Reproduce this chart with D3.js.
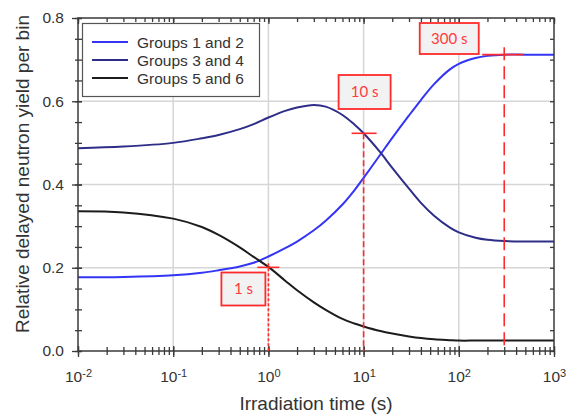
<!DOCTYPE html>
<html>
<head>
<meta charset="utf-8">
<script src="https://cdn.jsdelivr.net/npm/d3@7"></script>
<style>
  html, body { margin: 0; padding: 0; background: #fff; }
  svg { display: block; }
</style>
</head>
<body>
<svg id="chart" width="566" height="414"></svg>
<script>
// ---------------- data ----------------
const times = [0.01, 0.03, 0.1, 0.2, 0.3, 0.5, 0.7, 1, 1.5, 2, 3, 4, 6, 8, 10, 15, 20, 30, 40, 55, 80, 100, 150, 200, 300, 500, 1000];
const groups12 = [0.177, 0.178, 0.182, 0.188, 0.194, 0.203, 0.212, 0.227, 0.247, 0.263, 0.290, 0.313, 0.352, 0.386, 0.416, 0.472, 0.512, 0.566, 0.603, 0.641, 0.676, 0.690, 0.704, 0.709, 0.712, 0.712, 0.712];
const groups34 = [0.487, 0.491, 0.500, 0.511, 0.519, 0.533, 0.545, 0.561, 0.577, 0.585, 0.591, 0.587, 0.567, 0.544, 0.523, 0.477, 0.440, 0.390, 0.356, 0.325, 0.297, 0.285, 0.272, 0.267, 0.264, 0.263, 0.263];
const groups56 = [0.336, 0.333, 0.318, 0.298, 0.279, 0.249, 0.226, 0.202, 0.169, 0.146, 0.117, 0.099, 0.077, 0.066, 0.059, 0.048, 0.042, 0.035, 0.031, 0.028, 0.026, 0.025, 0.025, 0.025, 0.025, 0.025, 0.025];
const seriesNames = ["Groups 1 and 2", "Groups 3 and 4", "Groups 5 and 6"];
const seriesColors = ["#3434f5", "#2e2e88", "#1c1c1c"];
const xTickValues = [0.01, 0.1, 1, 10, 100, 1000];
const xTickExponents = ["-2", "-1", "0", "1", "2", "3"];
const yTickValues = [0, 0.2, 0.4, 0.6, 0.8];
const yTickLabels = ["0.0", "0.2", "0.4", "0.6", "0.8"];
const markTimes = [1, 10, 300];
const markValues = [0.201, 0.523, 0.712];
const markLabels = ["1 s", "10 s", "300 s"];
const xTitle = "Irradiation time (s)";
const yTitle = "Relative delayed neutron yield per bin";

// ---------------- layout ----------------
const svg = d3.select("#chart");
const L = 78, R = 554, T = 18, B = 351;
const x = d3.scaleLog().domain([0.01, 1000]).range([L, R]);
const y = d3.scaleLinear().domain([0, 0.8]).range([B, T]);
const axisColor = "#3a3a3a";
const font = "'Liberation Sans', Arial, sans-serif";

// minor tick positions
const xMinor = [];
for (let e = -2; e < 3; e++) for (let k = 1; k <= 9; k++) xMinor.push(k * Math.pow(10, e));
xMinor.push(1000);
const yMinor = d3.range(0, 0.8001, 0.05).map(v => +v.toFixed(2));

// gridlines
const grid = svg.append("g");
grid.selectAll("line.vx").data(xTickValues.slice(1, -1)).join("line")
  .attr("x1", d => x(d)).attr("x2", d => x(d)).attr("y1", T).attr("y2", B)
  .attr("stroke", "#d6d6d6").attr("stroke-width", 1.5);
grid.selectAll("line.hy").data(yTickValues.slice(1, -1)).join("line")
  .attr("x1", L).attr("x2", R).attr("y1", d => y(d)).attr("y2", d => y(d))
  .attr("stroke", "#d6d6d6").attr("stroke-width", 1.5);

// curves
const allSeries = [groups12, groups34, groups56];
const line = d3.line().x(d => x(d[0])).y(d => y(d[1])).curve(d3.curveCatmullRom.alpha(0.5));
allSeries.forEach((vals, i) => {
  svg.append("path")
    .datum(times.map((t, j) => [t, vals[j]]))
    .attr("d", line)
    .attr("fill", "none")
    .attr("stroke", seriesColors[i])
    .attr("stroke-width", 2);
});

// axes
function styleAxis(g) {
  g.select(".domain").remove();
  g.selectAll(".tick line").attr("stroke", axisColor).attr("stroke-width", 1.3);
}
// bottom minor
svg.append("g").attr("transform", `translate(0,${B})`)
  .call(d3.axisBottom(x).tickValues(xMinor).tickSize(4).tickFormat(""))
  .call(styleAxis).call(g => g.selectAll(".tick line").attr("y1", -4));
// bottom major with labels
const bx = svg.append("g").attr("transform", `translate(0,${B})`)
  .call(d3.axisBottom(x).tickValues(xTickValues).tickSize(6).tickPadding(12).tickFormat(""))
  .call(styleAxis).call(g => g.selectAll(".tick line").attr("y1", -5));
bx.selectAll(".tick").each(function(d, i) {
  const t = d3.select(this).select("text")
    .attr("font-family", font).attr("font-size", 15.5).attr("fill", "#333")
    .attr("text-anchor", "middle").attr("dy", "0.85em");
  t.text(null);
  t.append("tspan").text("10");
  t.append("tspan").attr("dy", "-0.45em").attr("font-size", 11).text(xTickExponents[i]);
});
// top ticks (inward)
svg.append("g").attr("transform", `translate(0,${T})`)
  .call(d3.axisTop(x).tickValues(xMinor).tickSize(-4).tickFormat(""))
  .call(styleAxis);
svg.append("g").attr("transform", `translate(0,${T})`)
  .call(d3.axisTop(x).tickValues(xTickValues).tickSize(-6).tickFormat(""))
  .call(styleAxis);
// left minor
svg.append("g").attr("transform", `translate(${L},0)`)
  .call(d3.axisLeft(y).tickValues(yMinor).tickSize(3).tickFormat(""))
  .call(styleAxis).call(g => g.selectAll(".tick line").attr("x1", 4));
// left major with labels
svg.append("g").attr("transform", `translate(${L},0)`)
  .call(d3.axisLeft(y).tickValues(yTickValues).tickSize(6).tickPadding(8).tickFormat((d, i) => yTickLabels[i]))
  .call(styleAxis).call(g => g.selectAll(".tick line").attr("x1", 4))
  .call(g => g.selectAll("text").attr("font-family", font).attr("font-size", 15.5).attr("fill", "#333"));
// right ticks (inward)
svg.append("g").attr("transform", `translate(${R},0)`)
  .call(d3.axisRight(y).tickValues(yMinor).tickSize(-4).tickFormat(""))
  .call(styleAxis);

// frame
svg.append("rect").attr("x", L).attr("y", T).attr("width", R - L).attr("height", B - T)
  .attr("fill", "none").attr("stroke", axisColor).attr("stroke-width", 1.5);

// axis titles
svg.append("text").attr("x", 316).attr("y", 410).attr("text-anchor", "middle")
  .attr("font-family", font).attr("font-size", 19).attr("fill", "#333").text(xTitle);
svg.append("text").attr("transform", `translate(29,174) rotate(-90)`)
  .attr("text-anchor", "middle")
  .attr("font-family", font).attr("font-size", 19).attr("fill", "#333").text(yTitle);

// legend
const lg = svg.append("g");
lg.append("rect").attr("x", 82.5).attr("y", 23.5).attr("width", 177).attr("height", 73)
  .attr("fill", "#fff").attr("stroke", "#555").attr("stroke-width", 1.2);
seriesNames.forEach((name, i) => {
  const yy = 42 + i * 18;
  lg.append("line").attr("x1", 92).attr("x2", 128).attr("y1", yy).attr("y2", yy)
    .attr("stroke", seriesColors[i]).attr("stroke-width", 2);
  lg.append("text").attr("x", 137).attr("y", yy + 5.5)
    .attr("font-family", font).attr("font-size", 15.5).attr("fill", "#333").text(name);
});

// red annotations
const red = "#ff2b2b";
const dashes = ["3,2", "6,3", "13,6"];
const vStart = [y(markValues[0]) - 4, y(markValues[1]), y(0.73)];
const hSeg = [[-11, 11], [-12, 13], [-22, 19]];
const boxes = [
  { cx: -25, cy: 289, w: 44, h: 33 },
  { cx: 1, cy: 92, w: 52, h: 34 },
  { cx: -55, cy: 38.5, w: 59, h: 31 }
];
markTimes.forEach((t, i) => {
  const px = x(t), py = y(markValues[i]);
  svg.append("line").attr("x1", px).attr("x2", px).attr("y1", vStart[i]).attr("y2", B)
    .attr("stroke", red).attr("stroke-width", 1.6).attr("stroke-dasharray", dashes[i]);
  svg.append("line").attr("x1", px + hSeg[i][0]).attr("x2", px + hSeg[i][1]).attr("y1", py).attr("y2", py)
    .attr("stroke", red).attr("stroke-width", 1.6);
  const b = boxes[i];
  svg.append("rect").attr("x", px + b.cx - b.w / 2).attr("y", b.cy - b.h / 2)
    .attr("width", b.w).attr("height", b.h)
    .attr("fill", "#f2f2f2").attr("stroke", red).attr("stroke-width", 1.8);
  svg.append("text").attr("x", px + b.cx).attr("y", b.cy + 5)
    .attr("text-anchor", "middle").attr("font-family", "Lato, 'Open Sans', sans-serif")
    .attr("font-size", 15).attr("fill", "#ff3b3b").text(markLabels[i]);
});
</script>
</body>
</html>
